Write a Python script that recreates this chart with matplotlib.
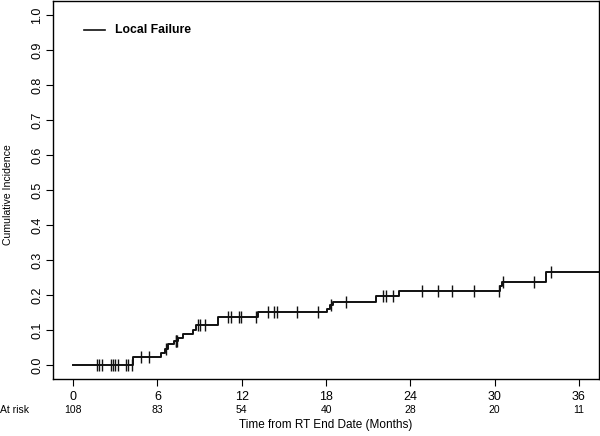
import numpy as np
import matplotlib
matplotlib.use("Agg")
import matplotlib.pyplot as plt
from matplotlib.transforms import blended_transform_factory

plt.rcParams['font.family'] = ['Liberation Sans', 'DejaVu Sans']

# step curve: event times (months) and cumulative incidence after each event
EVENT_T = [4.28, 6.23, 6.54, 6.75, 7.20, 7.45, 7.85, 8.55, 8.72, 10.29,
           13.18, 18.10, 18.29, 18.53, 21.57, 23.20, 30.40, 30.52, 33.65]
CUM_INC = [0.023, 0.033, 0.047, 0.060, 0.069, 0.078, 0.088, 0.101, 0.114, 0.138,
           0.151, 0.161, 0.171, 0.181, 0.197, 0.211, 0.225, 0.237, 0.266]
LAST_T = 40.0

# censoring marks (months)
CENS_T = [1.67, 1.86, 2.03, 2.67, 2.83, 2.98, 3.21, 3.78, 3.92, 4.17,
          4.81, 5.42, 6.60, 7.30, 7.35, 7.40, 8.90, 9.03, 9.39, 11.05,
          11.22, 11.83, 11.93, 13.02, 13.90, 14.30, 14.50, 15.92, 17.46, 18.37,
          19.43, 22.09, 22.28, 22.80, 24.82, 25.96, 27.00, 28.55, 30.35, 30.63,
          32.82, 34.00]

X_TICKS = [0, 6, 12, 18, 24, 30, 36]
AT_RISK = [108, 83, 54, 40, 28, 20, 11]
Y_TICKS = [0.0, 0.1, 0.2, 0.3, 0.4, 0.5, 0.6, 0.7, 0.8, 0.9, 1.0]


def value_at(t):
    i = np.searchsorted(EVENT_T, t, side='right')
    return 0.0 if i == 0 else CUM_INC[i - 1]


fig = plt.figure(figsize=(6.0, 4.36), dpi=100)
ax = fig.add_axes([53 / 600, 1 - 379 / 436, 546 / 600, 378 / 436])

xs = [0.0] + EVENT_T + [LAST_T]
ys = [0.0] + CUM_INC + [CUM_INC[-1]]
ax.step(xs, ys, where='post', color='#111111', lw=1.4)
ax.plot(CENS_T, [value_at(t) for t in CENS_T], ls='none', marker='|',
        ms=8, mew=1.0, color='#111111')

ax.set_xlim(-1.44, 37.44)
ax.set_ylim(-0.04, 1.04)
ax.set_xticks(X_TICKS)
ax.set_xticklabels([str(v) for v in X_TICKS], fontsize=9)
ax.set_yticks(Y_TICKS)
ax.set_yticklabels([f"{v:.1f}" for v in Y_TICKS], fontsize=9, rotation=90,
                   va='center')
ax.tick_params(direction='out', length=5, width=0.8)
ax.tick_params(axis='y', pad=2)
for s in ax.spines.values():
    s.set_linewidth(1.0)

# y axis title
fig.text(8 / 600, 1 - 195 / 436, "Cumulative Incidence", fontsize=7.6,
         rotation=90, ha='center', va='center')

# legend
ax.plot([0.77, 2.26], [0.958, 0.958], color='#111111', lw=1.2)
ax.text(2.98, 0.958, "Local Failure", fontsize=8.8, fontweight='bold', va='center')

# numbers at risk
tr = blended_transform_factory(ax.transData, fig.transFigure)
fig.text(0.0, 1 - 410 / 436, "At risk", fontsize=7.5, va='center', ha='left')
for x, n in zip(X_TICKS, AT_RISK):
    ax.text(x, 1 - 410 / 436, str(n), fontsize=7.5, ha='center', va='center',
            transform=tr, clip_on=False)
ax.text(18, 1 - 425 / 436, "Time from RT End Date (Months)", fontsize=8.5,
        ha='center', va='center', transform=tr, clip_on=False)

fig.savefig("out.png", dpi=100)
